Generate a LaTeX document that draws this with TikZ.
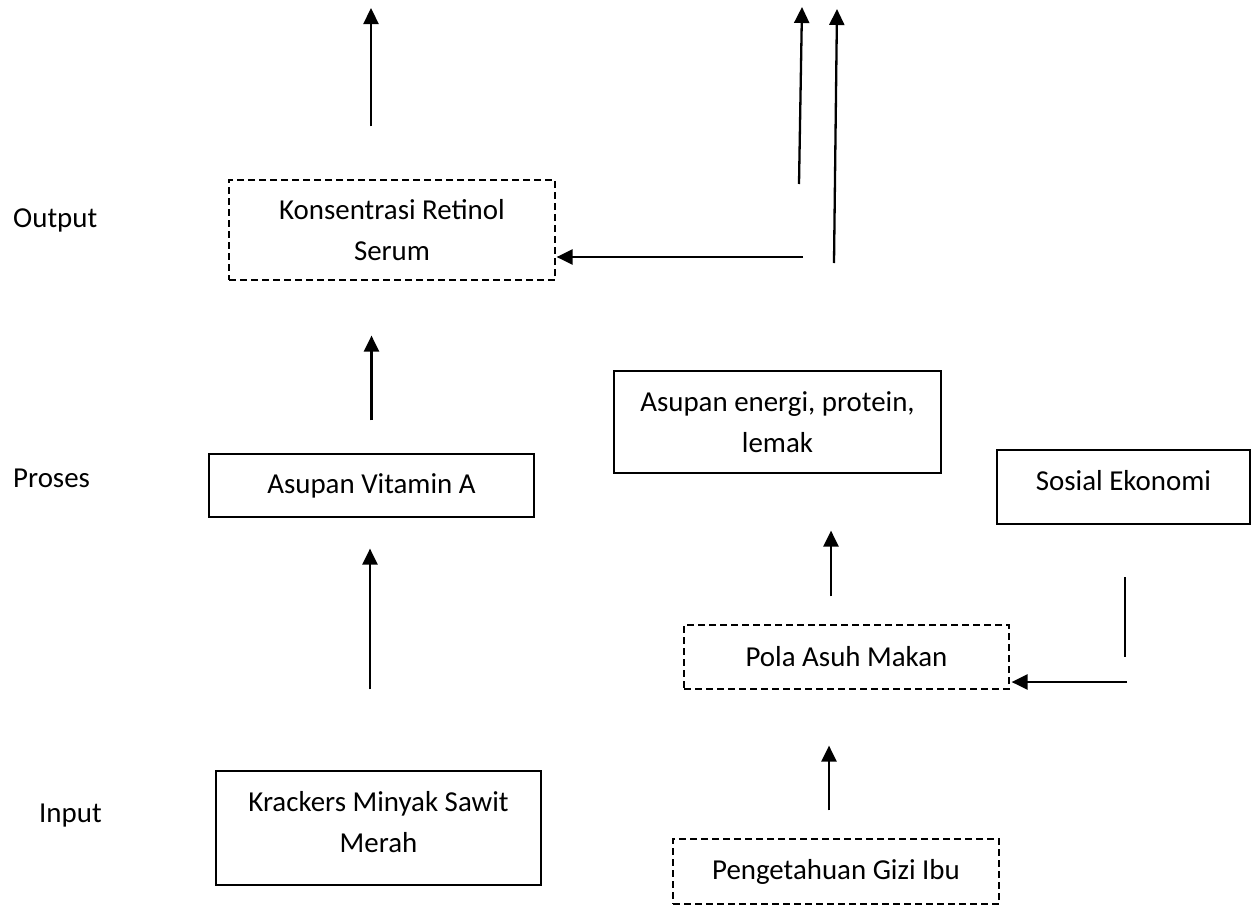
\documentclass[tikz,border=0pt]{standalone}
\usepackage{fontspec}
\setmainfont{Carlito}
\usetikzlibrary{arrows.meta}
\tikzset{
  txt/.style={font=\fontsize{28.9}{41}\selectfont, align=center},
  box/.style={txt, draw, line width=1.2pt, inner sep=0pt},
  dbox/.style={box, dash pattern=on 7pt off 4pt},
  lbl/.style={font=\fontsize{28.9}{41}\selectfont, anchor=west, inner sep=0pt},
  arr/.style={line width=2.3pt, -{Triangle[length=16pt,width=15pt]}},
  ln/.style={line width=1.5pt}
}
\begin{document}
\begin{tikzpicture}[x=1pt,y=-1pt]
\useasboundingbox (0,0) rectangle (1258,905);
% labels
\node[lbl] (lo) at (13,220) {Output};
\node[lbl] (lp) at (13,478) {Proses};
\node[lbl] (li) at (39,816) {Input};
% boxes
\node[dbox, minimum width=326pt, minimum height=100pt] (K) at (392,230) {Konsentrasi Retinol\\Serum};
\node[box, minimum width=325pt, minimum height=63pt] (V) at (371.5,485.5) {Asupan Vitamin A};
\node[box, minimum width=327pt, minimum height=102pt] (E) at (777.5,422) {Asupan energi, protein,\\lemak};
\node[box, minimum width=253pt, minimum height=74pt, text depth=14pt] (S) at (1123.5,487) {Sosial Ekonomi};
\node[dbox, minimum width=325pt, minimum height=64pt] (P) at (846.5,657) {Pola Asuh Makan};
\node[box, minimum width=325pt, minimum height=114pt, text depth=12pt] (Kr) at (378.5,828) {Krackers Minyak Sawit\\Merah};
\node[dbox, minimum width=326pt, minimum height=65pt] (G) at (836,871.5) {Pengetahuan Gizi Ibu};
% helper coordinates
\coordinate (t1) at (371,8);
\coordinate (h1) at (803,257);
\coordinate (u1a) at (799,184);
\coordinate (u1b) at (802,7);
\coordinate (u2a) at (834,263);
\coordinate (u2b) at (837,9);
\coordinate (c3) at (370,0);
\coordinate (c7) at (831,0);
\coordinate (c8) at (829,0);
\coordinate (s1) at (1125,577);
\coordinate (s2) at (1125,657);
\coordinate (h2) at (1127,682);
% connectors
\draw[arr, shorten <=53pt] (t1 |- K.north) -- (t1);
\draw[arr, shorten <=33pt, shorten >=55pt] (V.north) -- (V.north |- K.south);
\draw[arr, shorten <=81pt, shorten >=31pt] (c3 |- Kr.north) -- (c3 |- V.south);
\draw[arr, shorten >=1pt] (h1) -- (h1 -| K.east);
\draw[arr] (u1a) -- (u1b);
\draw[arr] (u2a) -- (u2b);
\draw[arr, shorten <=28pt, shorten >=57pt] (c7 |- P.north) -- (c7 |- E.south);
\draw[arr, shorten <=28pt, shorten >=56pt] (c8 |- G.north) -- (c8 |- P.south);
\draw[ln] (s1) -- (s2);
\draw[arr, shorten >=2pt] (h2) -- (h2 -| P.east);
\end{tikzpicture}
\end{document}
